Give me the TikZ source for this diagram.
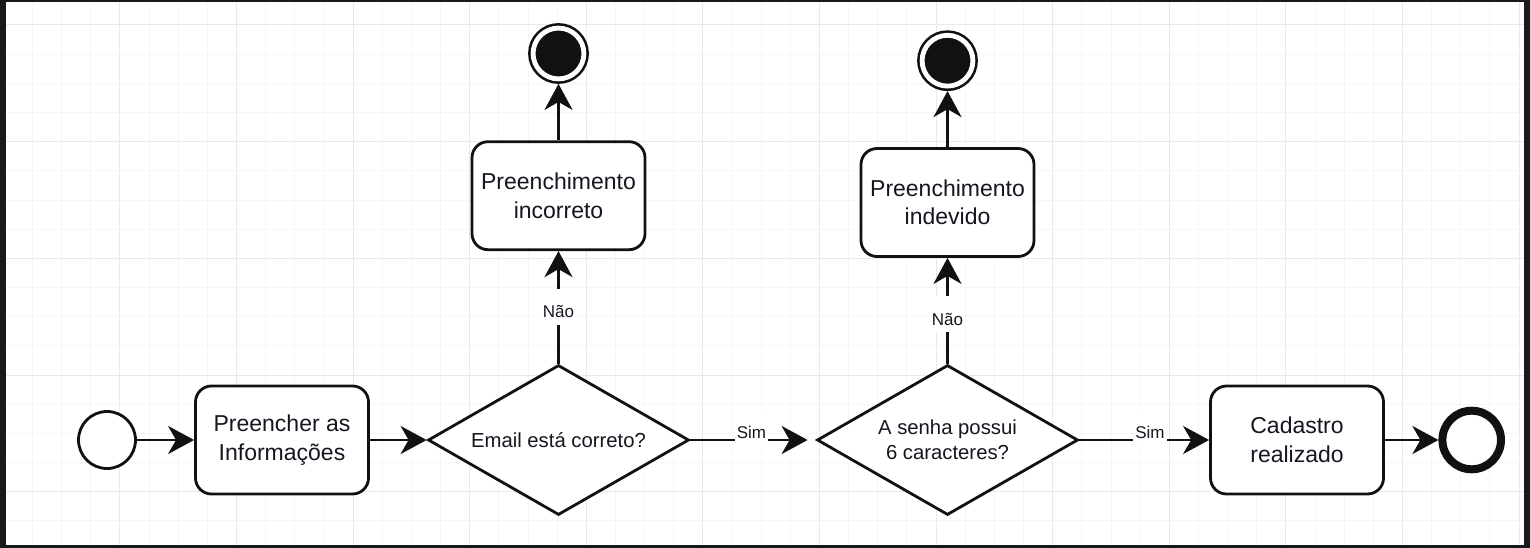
\documentclass[tikz,border=0pt]{standalone}
\usepackage{fontspec}
\setmainfont{Liberation Sans}
\usetikzlibrary{shapes.geometric,arrows.meta}
\definecolor{frame}{HTML}{17191C}
\definecolor{gmaj}{HTML}{E9E9E9}
\definecolor{gmin}{HTML}{F6F6F6}
\definecolor{ink}{HTML}{111111}
\definecolor{txt}{HTML}{161620}
\begin{document}
\begin{tikzpicture}[x=1pt,y=-1pt,
  every node/.style={text=txt},
  proc/.style={draw=ink, line width=2.8pt, rounded corners=16pt, fill=white,
    minimum width=173pt, minimum height=108pt, align=center,
    font=\fontsize{23}{28.5}\selectfont, inner sep=0pt},
  dec/.style={diamond, draw=ink, line width=2.8pt, fill=white,
    minimum width=261pt, minimum height=150pt, aspect=1.725, inner sep=0pt,
    align=center, font=\fontsize{20.3}{25}\selectfont},
  startev/.style={circle, draw=ink, line width=2.8pt, fill=white,
    minimum size=57pt, inner sep=0pt},
  endfill/.style={circle, draw=ink, fill=ink, line width=2.6pt, double=white,
    double distance=4.8pt, minimum size=50.8pt, inner sep=0pt, outer sep=5pt},
  endev/.style={circle, draw=ink, line width=8pt, fill=white,
    minimum size=58.6pt, inner sep=0pt},
  flow/.style={draw=ink, line width=2.8pt,
    -{Stealth[length=26pt, width=28pt, inset=8pt]}},
  lbl/.style={fill=white, font=\fontsize{17}{20}\selectfont, inner xsep=2pt,
    inner ysep=3pt, text height=26pt, text depth=4pt}]
\useasboundingbox (0,0) rectangle (1530,548);
\fill[frame] (0,0) rectangle (1530,548);
\fill[white] (6,2) rectangle (1524,545);
\begin{scope}
  \clip (6,2) rectangle (1524,545);
  \foreach \i in {0,...,52}
    \draw[gmin, line width=1pt] ({3.3+29.15*\i},2) -- ({3.3+29.15*\i},545);
  \foreach \j in {0,...,17}
    \draw[gmin, line width=1pt] (6,{25+29.17*\j}) -- (1524,{25+29.17*\j});
  \foreach \i in {0,...,13}
    \draw[gmaj, line width=1pt] ({3.3+116.6*\i},2) -- ({3.3+116.6*\i},545);
  \foreach \j in {0,...,4}
    \draw[gmaj, line width=1pt] (6,{25+116.7*\j}) -- (1524,{25+116.7*\j});
\end{scope}

\node[startev] (s) at (107,440) {};
\node[proc] (b1) at (282,440) {Preencher as\\Informações};
\node[dec] (d1) at (558.5,440) {Email está correto?};
\node[proc] (b2) at (558.5,195.7) {Preenchimento\\incorreto};
\node[endfill] (e1) at (558.5,53.5) {};
\node[dec] (d2) at (947.5,440) {A senha possui\\6 caracteres?};
\node[proc] (b3) at (947.5,202.5) {Preenchimento\\indevido};
\node[endfill] (e2) at (947.5,60.7) {};
\node[proc] (b4) at (1297,440) {Cadastro\\realizado};
\node[endev] (f) at (1471.7,440) {};

\draw[flow] (s.east) -- (b1.west);
\draw[flow] (b1.east) -- (d1.west);
\draw[flow, shorten >=8pt] (d1.east) -- (d2.west);
\draw[flow] (d2.east) -- (b4.west);
\draw[flow] (b4.east) -- (f.west);
\draw[flow] (d1.north) -- (b2.south);
\draw[flow] (b2.north) -- (e1.south);
\draw[flow] (d2.north) -- (b3.south);
\draw[flow] (b3.north) -- (e2.south);

\node[lbl, anchor=base] (n1) at (558.5,317.7) {Não};
\node[lbl, anchor=base] (n2) at (947.5,325) {Não};
\node[lbl, anchor=base] (y1) at (751.5,438.3) {Sim};
\node[lbl, anchor=base] (y2) at (1150,438.3) {Sim};
\end{tikzpicture}
\end{document}
